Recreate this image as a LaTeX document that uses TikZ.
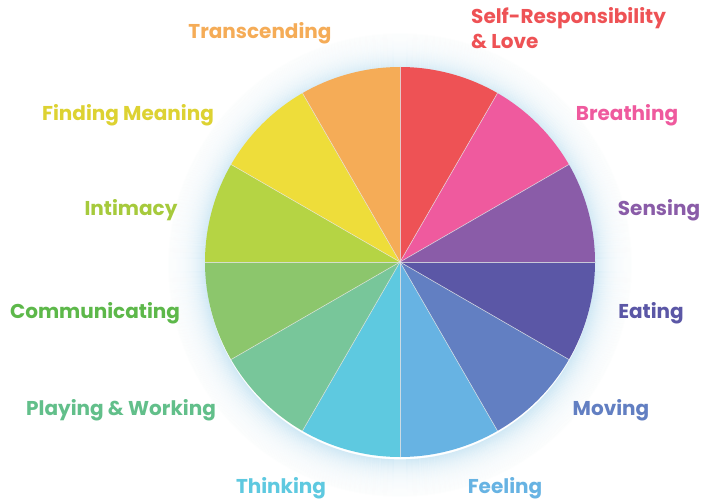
\documentclass[tikz,border=0pt]{standalone}
\usepackage{fontspec}
\setmainfont{Poppins}
\definecolor{cRed}{HTML}{EE5255}
\definecolor{cPink}{HTML}{EF5A9E}
\definecolor{cPurple}{HTML}{8A5CA8}
\definecolor{cIndigo}{HTML}{5B57A6}
\definecolor{cBlue}{HTML}{627FC2}
\definecolor{cSky}{HTML}{67B3E3}
\definecolor{cCyan}{HTML}{5EC9E0}
\definecolor{cTeal}{HTML}{78C69A}
\definecolor{cGreen}{HTML}{8CC66C}
\definecolor{cLime}{HTML}{B5D444}
\definecolor{cYellow}{HTML}{EEDD3A}
\definecolor{cOrange}{HTML}{F5AC57}
\definecolor{tGreen}{HTML}{5DB84A}
\definecolor{tLime}{HTML}{A6CA3C}
\definecolor{tYellow}{HTML}{DDD232}
\definecolor{tTeal}{HTML}{62BF8A}
\definecolor{glowc}{HTML}{CFE8F5}
\tikzset{
  lbl/.style={font=\fontsize{20}{25}\selectfont\bfseries, inner sep=0pt}
}
\begin{document}
\begin{tikzpicture}[x=1pt,y=-1pt]
\useasboundingbox (0,0) rectangle (702,500);
\fill[white] (0,0) rectangle (702,500);
\coordinate (c) at (400,262);
% soft glow around the wheel
\foreach \i in {0,...,36}{
  \draw[glowc, line width=1.3pt, opacity={0.9*exp(-\i/11)}] (400,265) circle[radius={195+\i}];
}
% wedges
\foreach \col/\a in {cRed/90,cPink/60,cPurple/30,cIndigo/0,cBlue/-30,cSky/-60,cCyan/-90,cTeal/-120,cGreen/-150,cLime/-180,cYellow/-210,cOrange/-240}{
  \fill[\col] (c) -- ++({cos(\a)*195},{-sin(\a)*195}) arc[start angle=-\a, end angle={-\a+30}, radius=195] -- cycle;
}
\foreach \a in {0,30,...,330}{
  \draw[white!80!gray, line width=0.6pt, opacity=0.8] (c) -- ++({cos(\a)*195},{-sin(\a)*195});
}
\node[lbl, text=cOrange] (tr) at (260,33) {Transcending};
\node[lbl, text=cRed, align=left, anchor=north west] (sr) at (471,7) {Self-Responsibility\\[0pt]\& Love};
\node[lbl, text=cPink] (br) at (627,115) {Breathing};
\node[lbl, text=cPurple] (se) at (659,210) {Sensing};
\node[lbl, text=cIndigo] (ea) at (651,313) {Eating};
\node[lbl, text=cBlue] (mo) at (611,410) {Moving};
\node[lbl, text=cSky] (fe) at (505,488) {Feeling};
\node[lbl, text=cCyan] (th) at (281,488) {Thinking};
\node[lbl, text=tTeal] (pw) at (121,410) {Playing \& Working};
\node[lbl, text=tGreen] (co) at (95,313) {Communicating};
\node[lbl, text=tLime] (in) at (131,210) {Intimacy};
\node[lbl, text=tYellow] (fm) at (128,115) {Finding Meaning};
\end{tikzpicture}
\end{document}
